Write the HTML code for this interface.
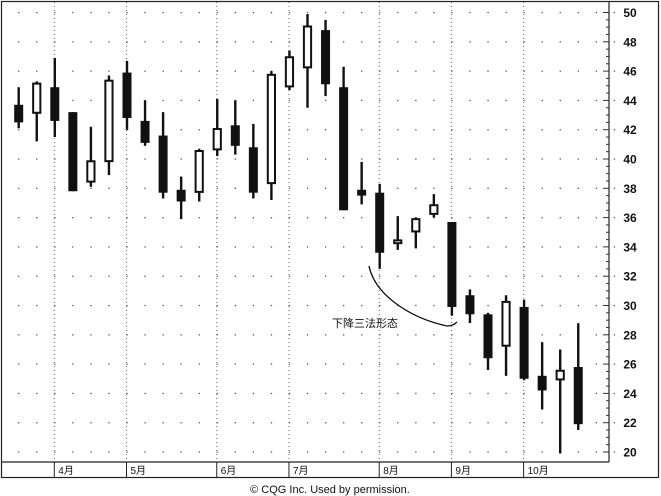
<!DOCTYPE html>
<html><head><meta charset="utf-8"><style>
body{margin:0;background:#fff;}
svg{display:block;font-family:"Liberation Sans","Noto Sans CJK SC",sans-serif;}
</style></head><body>
<svg id="chart" width="661" height="496" viewBox="0 0 661 496"></svg>
<script>
const opens  = [43.7,43.1,44.9,43.2,38.4,39.8,45.9,42.6,41.6,37.9,37.7,40.6,42.3,40.8,38.3,44.9,46.2,48.8,44.9,37.9,37.7,34.2,35.0,36.2,35.7,30.7,29.4,27.2,29.9,25.2,24.9,25.8];
const closes = [42.5,45.2,42.6,37.8,39.9,45.4,42.8,41.1,37.7,37.1,40.6,42.1,40.9,37.7,45.8,47.0,49.1,45.1,36.5,37.5,33.6,34.5,35.95,36.9,29.9,29.4,26.4,30.3,25.0,24.2,25.6,21.9];
const highs  = [44.9,45.3,46.9,43.2,42.2,45.7,46.7,44.0,43.2,38.8,40.7,44.1,44.0,42.4,46.0,47.4,49.9,49.5,46.3,39.8,38.3,36.1,36.0,37.6,35.7,31.1,29.5,30.7,30.4,27.5,27.0,28.8];
const lows   = [42.1,41.2,41.5,37.8,38.1,38.9,42.0,40.9,37.3,35.9,37.1,40.2,40.3,37.3,37.2,44.7,43.5,44.3,36.5,36.9,32.5,33.8,33.9,36.0,29.3,28.8,25.6,25.2,24.9,22.9,19.9,21.5];
const yTicks = [20,22,24,26,28,30,32,34,36,38,40,42,44,46,48,50];
const months = ["4月","5月","6月","7月","8月","9月","10月"];
const monthStart = [2,6,11,15,20,24,28]; // candle index where month begins
const NS="http://www.w3.org/2000/svg";
const svg=document.getElementById('chart');
function y(v){return 452-(v-20)*14.65;}
function x(i){return 18.7+i*18.05;}
function mk(tag,attrs,parent){const e=document.createElementNS(NS,tag);for(const k in attrs)e.setAttribute(k,attrs[k]);(parent||svg).appendChild(e);return e;}
// frame
let e=mk('rect',{x:1.5,y:1.5,width:657,height:476,fill:'none',stroke:'#222','stroke-width':1.2});


e=mk('line',{x1:609,y1:1,x2:609,y2:462,stroke:'#222','stroke-width':1.2});


e=mk('line',{x1:1,y1:462,x2:609,y2:462,stroke:'#222','stroke-width':1.2});


// grid dots
for(const t of yTicks){for(let i=0;i<34;i++){const d=mk('rect',{x:x(i)-0.6,y:y(t)-0.6,width:1.3,height:1.3,fill:'#555'});
}}
// y ticks and labels
for(let v=20;v<=50.01;v+=0.5){const major=(Math.round(v)===v&&v%2===0);const tk=mk('line',{x1:major?603:606,y1:y(v),x2:609,y2:y(v),stroke:'#333','stroke-width':1});

}
for(const t of yTicks){const tx=mk('text',{x:630,y:y(t)+4.5,'text-anchor':'middle','font-size':12,'font-weight':'bold',fill:'#111'});tx.textContent=t;

}
// month separators
months.forEach((m,k)=>{const lx=x(monthStart[k])-0.5;
const vl=mk('line',{x1:lx,y1:2,x2:lx,y2:462,stroke:'#666','stroke-width':1,'stroke-dasharray':'1,3'});


const sl=mk('line',{x1:lx,y1:462,x2:lx,y2:477,stroke:'#222','stroke-width':1});


const tx=mk('text',{x:lx+4,y:474,'font-size':10,fill:'#111'});tx.textContent=m;

});
// candles
opens.forEach((o,i)=>{const c=closes[i];const cx=x(i);const g=mk('g',{});


mk('line',{x1:cx,y1:y(highs[i]),x2:cx,y2:y(lows[i]),stroke:'#111','stroke-width':2.4},g);
const top=y(Math.max(o,c)),bot=y(Math.min(o,c));const up=c>o;
mk('rect',{x:up?cx-3.6:cx-4.5,y:up?top+0.8:top,width:up?7.2:9,height:Math.max(up?bot-top-1.6:bot-top,1.5),fill:up?'#fff':'#111',stroke:'#111','stroke-width':up?2:0},g);});
// annotation curve
e=mk('path',{d:'M369,266 C375,295 410,318 447,326 Q453,326 457,322',fill:'none',stroke:'#111','stroke-width':1.3});


e=mk('text',{x:332,y:327,'font-size':11,fill:'#111'});e.textContent='下降三法形态';


e=mk('text',{x:330,y:493,'text-anchor':'middle','font-size':11,fill:'#111'});e.textContent='© CQG Inc. Used by permission.';


</script>
</body></html>
